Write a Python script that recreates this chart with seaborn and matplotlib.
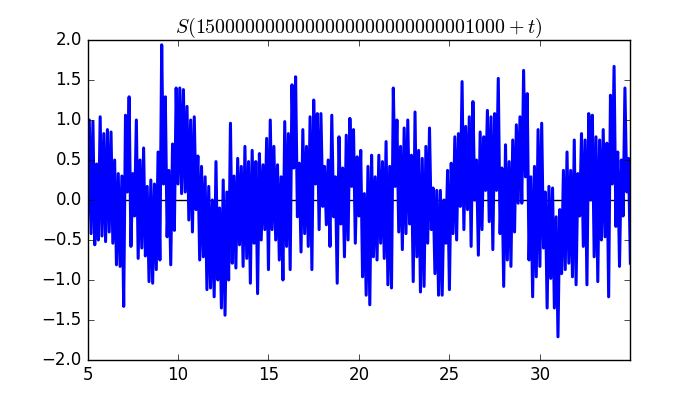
import numpy as np
import matplotlib
matplotlib.use("Agg")
import matplotlib.pyplot as plt
import seaborn as sns

# S(T + t), alternating trough / peak every 0.1 in t
title_text = r"$S(1500000000000000000000000001000+t)$"
t_first, t_last = 5.0, 35.0

s_05_10 = [-0.3, 1.0, -0.42, 0.98, -0.56, 0.45, -0.5, 1.04, -0.45, 0.83,
           -0.52, 0.88, -0.4, 0.85, -0.54, 0.5, -0.81, 0.33, -0.83, 0.3,
           -1.33, 1.06, 0.1, 1.29, -0.58, 0.33, -0.2, 1.0, -0.73, 0.5,
           -0.6, 0.65, -0.7, 0.17, -1.02, 0.25, -1.04, 0.2, -0.87, 0.6,
           -0.75, 1.94, 0.2, 1.29, -0.46, 0.37, -0.81, 0.7, -0.38, 1.4]
s_10_15 = [0.2, 1.4, 0.08, 1.38, 0.1, 1.17, -0.25, 1.0, -0.4, 1.04,
           -0.12, 0.55, -0.75, 0.42, -0.71, 0.29, -1.12, 0.17, -1.1, 0.0,
           -1.21, 0.48, -1.0, -0.1, -1.35, 0.25, -1.44, 0.1, -1.0, 0.96,
           -0.79, 0.3, -0.85, 0.52, -0.56, 0.42, -0.83, 0.67, -0.73, 0.48,
           -1.04, 0.62, -0.54, 0.48, -1.17, 0.58, -0.5, 0.44, -0.37, 0.77]
s_15_20 = [-0.87, 1.0, -0.37, 0.67, -0.5, 0.44, -0.75, 0.29, -1.0, 0.98,
           -0.58, 0.83, -0.87, 1.44, 0.4, 1.54, -0.21, 0.46, -0.65, 0.88,
           -0.42, 0.67, -0.58, 1.04, -0.87, 1.25, 0.2, 1.08, -0.37, 1.08,
           -0.08, 0.42, -0.31, 0.5, -0.58, 1.06, -0.21, 0.29, -1.04, 0.79,
           -0.3, 0.4, -0.71, 0.81, -0.5, 1.02, 0.17, 0.88, -0.54, 0.54]
s_20_25 = [-0.2, 0.62, -0.96, 0.08, -1.19, 0.42, -1.31, 0.56, -0.71, 0.29,
           -0.75, 0.56, -0.54, 0.48, -0.73, 0.73, -1.06, 0.42, -1.1, 1.4,
           0.17, 1.0, -0.4, 0.67, -0.62, 0.9, -0.42, 1.0, -0.3, 0.56,
           -1.02, 1.1, -0.71, 0.62, -1.15, 0.52, -1.08, 0.67, -0.54, 0.9,
           -0.37, 0.15, -0.92, 0.12, -1.19, 0.12, -1.19, 0.0, -0.54, 0.37]
s_25_30 = [-1.12, 0.46, -0.42, 0.79, -0.5, 0.83, -0.08, 1.48, -0.37, 0.92,
           -0.12, 1.04, -0.58, 1.23, 0.0, 0.5, -0.69, 0.85, -0.37, 0.79,
           0.12, 1.12, -0.27, 1.04, -0.62, 1.08, 0.12, 1.52, -0.42, 0.4,
           -1.08, 0.69, -0.75, 0.48, -0.83, 0.75, -0.4, 0.94, -0.04, 1.04,
           -0.04, 1.62, 0.29, 1.33, -0.75, 0.29, -1.21, 0.42, -0.96, 0.88]
s_30_35 = [-0.83, 0.96, -0.6, 0.1, -1.35, 0.17, -0.98, 0.15, -1.35, -0.21,
           -1.71, -0.12, -0.92, 0.37, -0.87, 0.6, -0.79, 0.37, -0.96, 0.75,
           -1.06, 0.33, -0.2, 0.83, -0.58, 0.75, -1.06, 1.08, 0.0, 1.06,
           -0.71, 0.79, -1.02, 0.75, -0.5, 0.88, -0.46, 0.71, -1.21, 1.31,
           0.2, 1.67, -0.33, 0.6, -0.83, 0.5, -0.2, 1.4, 0.1, 0.52,
           -0.79]

s = np.array(s_05_10 + s_10_15 + s_15_20 + s_20_25 + s_25_30 + s_30_35)
t = np.linspace(t_first, t_last, len(s))

plt.style.use("classic")
fig, ax = plt.subplots(figsize=(7, 4), dpi=100)

# zero line sits behind the curve
ax.axhline(0, color="k", linewidth=1, zorder=1)
sns.lineplot(x=t, y=s, ax=ax, color="b", linewidth=2.2,
             estimator=None, sort=False, legend=False, zorder=2)

ax.set_xlim(5, 34.98)
ax.set_ylim(-2, 2)
ax.set_xticks([5, 10, 15, 20, 25, 30])
ax.set_yticks(np.arange(-2.0, 2.01, 0.5))
ax.set_xlabel("")
ax.set_ylabel("")
ax.set_title(title_text)

fig.savefig("out.png", dpi=100)
